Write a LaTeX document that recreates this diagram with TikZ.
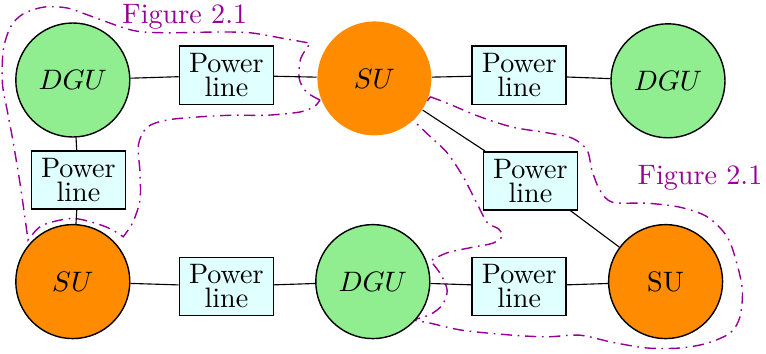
\documentclass[tikz,border=0pt]{standalone}
\definecolor{dgucol}{RGB}{144,238,144}
\definecolor{sucol}{RGB}{255,140,0}
\definecolor{linecol}{RGB}{224,255,255}
\definecolor{figcol}{RGB}{150,0,150}
\begin{document}
\begin{tikzpicture}[
  unit/.style={circle,minimum size=1.425cm,inner sep=0pt,line width=0.5pt},
  dgu/.style={unit,draw,fill=dgucol},
  su/.style={unit,draw,fill=sucol},
  pline/.style={draw,fill=linecol,align=center,inner sep=1.5pt,minimum width=1.175cm,
    minimum height=0.725cm,font=\fontsize{10pt}{8.5pt}\selectfont,line width=0.5pt},
  region/.style={figcol,line width=0.5pt,dash pattern=on 4pt off 2pt on 0.6pt off 2pt},
  figlabel/.style={figcol,anchor=base}
  ]
  \useasboundingbox (0,0) rectangle (9.575,-4.4125);

  \draw[region] plot[smooth] coordinates {(4.00,-1.25) (3.83,-1.15) (3.74,-0.98) (3.76,-0.73) (3.88,-0.54)}
    -- plot[smooth] coordinates {(3.88,-0.54) (3.54,-0.48) (3.13,-0.41) (2.71,-0.40) (2.09,-0.41) (1.66,-0.38)
      (1.16,-0.21) (0.84,-0.10) (0.54,-0.09) (0.28,-0.18) (0.13,-0.34) (0.04,-0.63) (0.03,-1.04)
      (0.09,-1.38) (0.16,-1.75) (0.25,-2.29) (0.31,-2.71) (0.35,-3.00)}
    -- plot[smooth] coordinates {(0.35,-3.00) (0.48,-2.85) (0.63,-2.78) (0.91,-2.73) (1.16,-2.78) (1.38,-2.86) (1.54,-2.96)}
    -- plot[smooth] coordinates {(1.54,-2.96) (1.66,-2.78) (1.75,-2.50) (1.75,-2.16) (1.73,-1.81) (1.84,-1.59)
      (2.09,-1.50) (2.50,-1.46) (2.91,-1.44) (3.34,-1.44) (3.75,-1.40) (3.93,-1.33) (4.00,-1.25)};

  \draw[region] plot[smooth] coordinates {(5.38,-1.21) (5.59,-1.29) (6.00,-1.46) (6.41,-1.59) (6.84,-1.66)
      (7.16,-1.73) (7.34,-1.88) (7.40,-2.13) (7.50,-2.38) (7.66,-2.53) (8.09,-2.54) (8.50,-2.59)
      (8.84,-2.71) (9.09,-2.96) (9.21,-3.29) (9.28,-3.63) (9.25,-3.96) (9.13,-4.16) (8.84,-4.29)
      (8.50,-4.35) (8.09,-4.35) (7.66,-4.28) (7.25,-4.19) (6.84,-4.21) (6.41,-4.19) (5.79,-4.13)
      (5.38,-4.04) (5.16,-4.00)}
    -- plot[smooth] coordinates {(5.16,-4.00) (5.38,-3.93) (5.53,-3.81) (5.59,-3.63) (5.51,-3.43) (5.38,-3.26)}
    -- plot[smooth] coordinates {(5.38,-3.26) (5.59,-3.16) (5.91,-3.09) (6.16,-3.04) (6.28,-2.95) (6.23,-2.86)
      (6.09,-2.78) (5.96,-2.54) (5.79,-2.21) (5.59,-1.91) (5.38,-1.71) (5.16,-1.50)}
    -- cycle;

  \node[dgu] (dguA) at (0.91,-1.00) {$DGU$};
  \node[pline] (plA) at (2.83,-0.94) {Power\\line};
  \node[unit,fill=sucol] (suA) at (4.68,-0.98) {$SU$};
  \node[pline] (plB) at (6.49,-0.94) {Power\\line};
  \node[dgu] (dguB) at (8.35,-1.01) {$DGU$};

  \node[pline] (plC) at (0.98,-2.25) {Power\\line};
  \node[pline] (plF) at (6.63,-2.26) {Power\\line};

  \node[su] (suB) at (0.91,-3.52) {$SU$};
  \node[pline] (plD) at (2.83,-3.58) {Power\\line};
  \node[dgu] (dguC) at (4.66,-3.52) {$DGU$};
  \node[pline] (plE) at (6.49,-3.58) {Power\\line};
  \node[su] (suC) at (8.32,-3.52) {SU};

  \node[figlabel] (figA) at (2.31,-0.29) {Figure 2.1};
  \node[figlabel] (figB) at (8.75,-2.31) {Figure 2.1};

  \draw (dguA) -- (plA) -- (suA) -- (plB) -- (dguB);
  \draw (dguA) -- (plC) -- (suB);
  \draw (suB) -- (plD) -- (dguC) -- (plE) -- (suC);
  \draw (suA) -- (plF) -- (suC);
\end{tikzpicture}
\end{document}
